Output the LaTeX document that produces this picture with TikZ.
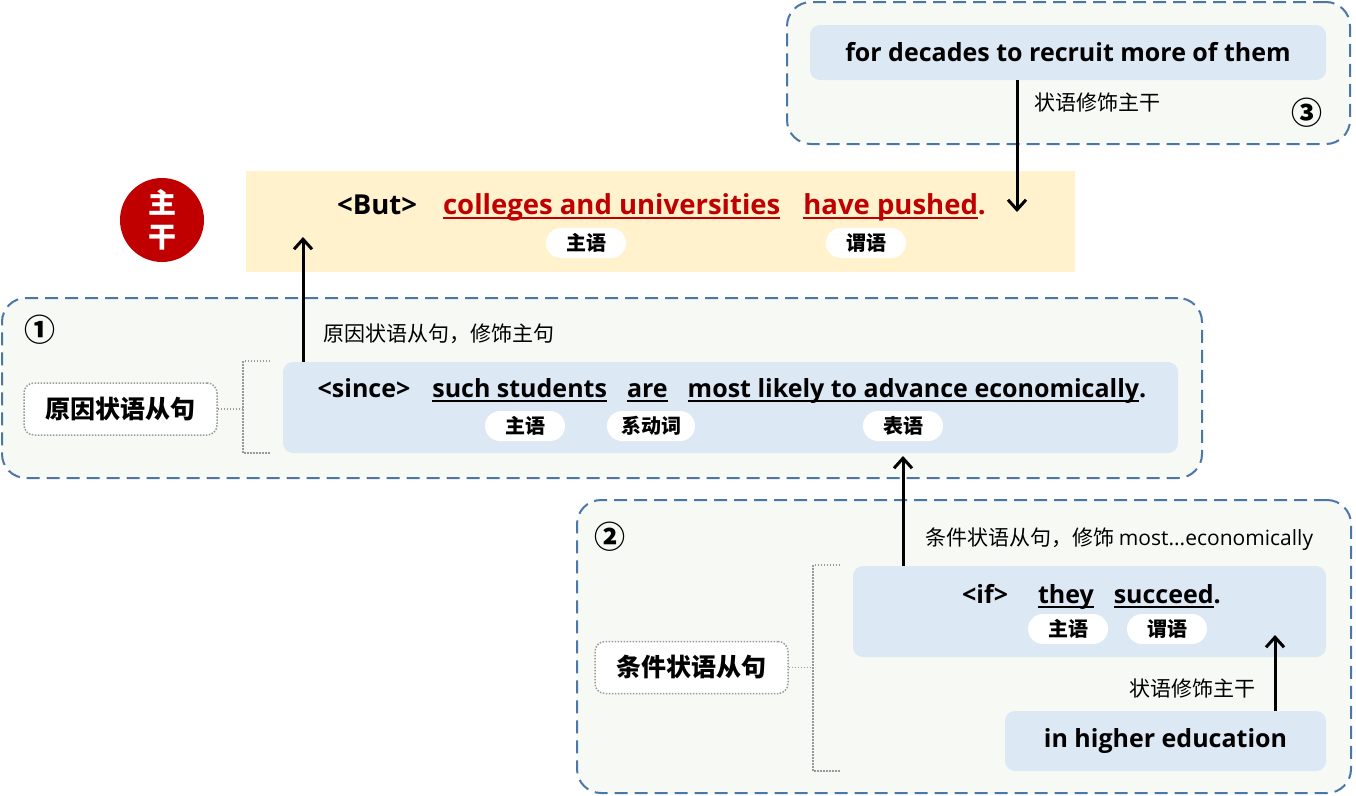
\documentclass[tikz,border=0pt]{standalone}
\usepackage{fontspec}
\setmainfont{Open Sans}
\newfontfamily\cjk{Noto Sans CJK SC}
\usetikzlibrary{arrows.meta,positioning}
\definecolor{grpline}{RGB}{74,118,168}
\definecolor{grpfill}{RGB}{247,250,244}
\definecolor{clausefill}{RGB}{221,232,245}
\definecolor{mainfill}{RGB}{255,242,204}
\definecolor{mainred}{RGB}{192,0,0}
\newcommand\ulw[1]{\setbox0=\hbox{#1}\rlap{\rule[-5pt]{\wd0}{1.6pt}}\box0}

\begin{document}
\begin{tikzpicture}[
  x=1pt, y=-1pt,
  grp/.style={draw=grpline, line width=2pt, dash pattern=on 13pt off 7pt, fill=grpfill, rounded corners=24pt, inner sep=0pt},
  clause/.style={fill=clausefill, rounded corners=10pt, inner sep=0pt},
  pill/.style={fill=white, rounded corners=15pt, minimum width=80pt, minimum height=30pt, inner sep=0pt, font=\cjk\bfseries\fontsize{20}{20}\selectfont},
  tag/.style={draw=gray!80, line width=1.5pt, dash pattern=on 1.5pt off 1.5pt, fill=white, rounded corners=10pt, minimum width=193pt, minimum height=52pt, font=\cjk\bfseries\fontsize{25}{25}\selectfont},
  note/.style={font=\cjk\fontsize{21}{21}\selectfont, inner sep=0pt},
  num/.style={font=\cjk\bfseries\fontsize{31}{31}\selectfont, inner sep=0pt},
  sent/.style={font=\bfseries\fontsize{25}{30}\selectfont, inner sep=0pt},
  link/.style={-{Straight Barb[length=10pt,width=18pt]}, line width=3pt},
  brk/.style={draw=gray!80, line width=1.5pt, dash pattern=on 1.5pt off 1.5pt}
]
\useasboundingbox (0,0) rectangle (1356,795);
\node[grp, minimum width=563pt, minimum height=142pt] (grp3) at (1068.5,73) {};
\node[grp, minimum width=1200pt, minimum height=180pt] (grp1) at (602,388) {};
\node[grp, minimum width=774pt, minimum height=293pt] (grp2) at (964,646.5) {};
\node[fill=mainfill, minimum width=829pt, minimum height=101pt, inner sep=0pt] (main) at (660.5,221.5) {};

\node[clause, minimum width=516pt, minimum height=55pt, font=\bfseries\fontsize{25}{30}\selectfont] (for) at (1068,52.5) {for decades to recruit more of them};
\node[clause, minimum width=895pt, minimum height=91pt] (c1) at (730.5,407.5) {};
\node[clause, minimum width=473pt, minimum height=91pt] (c2) at (1089.5,611.5) {};
\node[clause, minimum width=321pt, minimum height=60pt, font=\bfseries\fontsize{25}{30}\selectfont] (edu) at (1165.5,741) {in higher education};

\node[circle, fill=mainred, minimum size=84pt, inner sep=0pt, text=white, align=center, font=\cjk\bfseries\fontsize{28}{34}\selectfont] (zg) at (162,220) {主\\干};

\node[sent, font=\bfseries\fontsize{27.5}{30}\selectfont, anchor=base] (s0) at (661.5,214) {<But>\hspace{26pt}{\color{mainred}\ulw{colleges and universities}\hspace{23pt}\ulw{have pushed}.}};
\node[sent, anchor=base] (s1) at (732,397) {<since>\hspace{22pt}\ulw{such students}\hspace{20pt}\ulw{are}\hspace{20pt}\ulw{most likely to advance economically}.};
\node[sent, anchor=base] (s2) at (1091.5,603) {<if>\hspace{30pt}\ulw{they}\hspace{20pt}\ulw{succeed}.};

\node[pill] (p1) at (586,243) {主语};
\node[pill] (p2) at (866,243) {谓语};
\node[pill] (p3) at (525,426) {主语};
\node[pill, minimum width=88pt] (p4) at (651,426) {系动词};
\node[pill] (p5) at (903,426) {表语};
\node[pill] (p6) at (1068,629) {主语};
\node[pill] (p7) at (1167,629) {谓语};

\node[tag] (tag1) at (120.5,409) {原因状语从句};
\node[tag] (tag2) at (691.5,667.5) {条件状语从句};

\node[num] (k1) at (40,330) {①};
\node[num] (k2) at (610,537) {②};
\node[num] (k3) at (1307,113) {③};

\node[note, anchor=west] (n3) at (1034,103) {状语修饰主干};
\node[note, anchor=west] (n1) at (323,334) {原因状语从句，修饰主句};
\node[note, anchor=west] (n2) at (925,539) {条件状语从句，修饰 {\rmfamily most...economically}};
\node[note, anchor=east] (n4) at (1256,688) {状语修饰主干};

\coordinate (b1) at (243,409);
\coordinate (b1t) at (270,361);
\coordinate (b1b) at (270,453);
\draw[brk] (tag1) -- (b1);
\draw[brk] (b1t) -| (b1) |- (b1b);
\coordinate (b2) at (813,667.5);
\coordinate (b2t) at (840,565);
\coordinate (b2b) at (840,771);
\draw[brk] (tag2) -- (b2);
\draw[brk] (b2t) -| (b2) |- (b2b);

\coordinate (t1) at (303,237);
\coordinate (t2) at (903,456);
\coordinate (t3) at (1017,212);
\coordinate (t4) at (1275,635);
\draw[link] (c1.north -| t1) -- (t1);
\draw[link] (c2.north -| t2) -- (t2);
\draw[link] (for.south -| t3) -- (t3);
\draw[link] (edu.north -| t4) -- (t4);
\end{tikzpicture}
\end{document}
